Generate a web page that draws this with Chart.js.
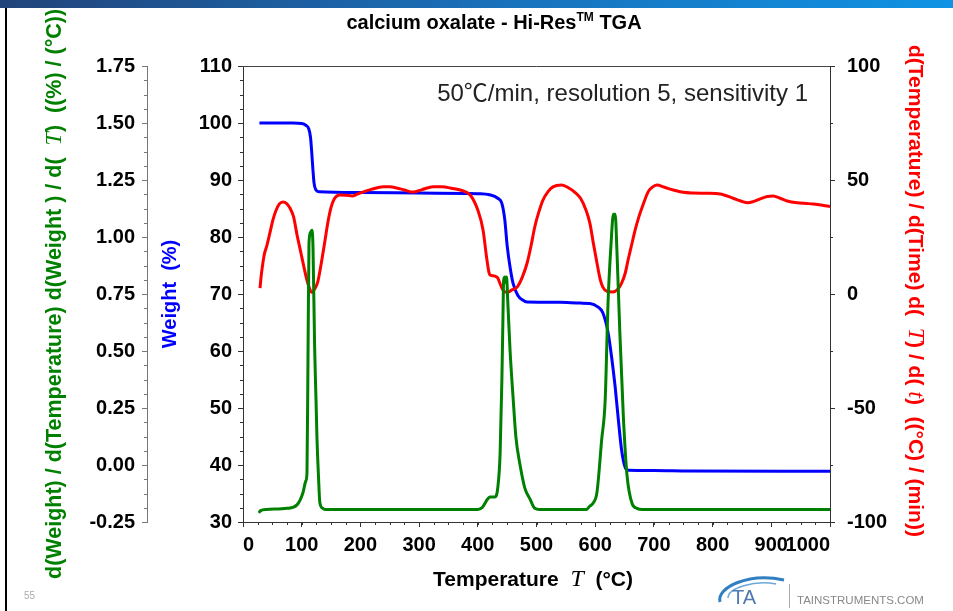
<!DOCTYPE html>
<html>
<head>
<meta charset="UTF-8">
<title>calcium oxalate - Hi-Res TGA</title>
<script src="https://cdn.jsdelivr.net/npm/chart.js"></script>
<style>
  html, body { margin: 0; padding: 0; background: #fff; }
  #wrap { position: relative; width: 953px; height: 611px; overflow: hidden; }
  #chart { position: absolute; left: 0; top: 0; }
  .topbar { position: absolute; left: 0; top: 0; width: 953px; height: 8px;
            background: linear-gradient(to right, #22447a, #1a6fb8 50%, #0f93e4); }
  .leftline { position: absolute; left: 5px; top: 8px; width: 2px; height: 603px; background: #000; }
  .pagenum { position: absolute; left: 24px; top: 590px; font: 10px "Liberation Sans", Arial, sans-serif; color: #aaa; }
  .sep { position: absolute; left: 789px; top: 584px; width: 1px; height: 24px; background: #aaa; }
  .site { position: absolute; left: 797px; top: 594px; font: 11.5px "Liberation Sans", Arial, sans-serif; color: #888; }
  .logo { position: absolute; left: 712px; top: 564px; }
</style>
</head>
<body>
<div id="wrap">
  <canvas id="chart" width="953" height="611"></canvas>
  <div class="topbar"></div>
  <div class="leftline"></div>
  <div class="pagenum">55</div>
  <svg class="logo" width="80" height="44" viewBox="0 0 80 44">
    <path d="M8 38 C 4 24, 36 8, 72 16" fill="none" stroke="#2f7fc1" stroke-width="3"/>
    <path d="M16 34 C 16 24, 42 16, 64 20" fill="none" stroke="#6aa8dc" stroke-width="1.5"/>
    <text x="20" y="40" font-family="Liberation Sans, Arial, sans-serif" font-size="20" fill="#4f79b0">TA</text>
  </svg>
  <div class="sep"></div>
  <div class="site">TAINSTRUMENTS.COM</div>
</div>

<script>
    // weight curve (%), left inner axis
    const weightT   = [28, 60, 85, 100, 107, 112, 115, 117, 119, 121, 124, 130, 200, 300, 380, 400, 420, 434, 441, 446, 450, 455, 460, 468, 477, 484, 540, 575, 591, 605, 613, 622, 628, 634, 639, 645, 651, 656, 700, 760, 1000];
    const weightVal = [100, 100, 100, 99.9, 99.6, 99.0, 97.5, 95, 92, 89.5, 88.3, 87.95, 87.8, 87.7, 87.65, 87.6, 87.4, 86.8, 85.9, 83.0, 78.5, 74.7, 71.9, 69.8, 68.9, 68.6, 68.55, 68.4, 68.35, 67.7, 66.7, 63.2, 58.9, 53.7, 48.4, 42.6, 39.6, 39.1, 39.05, 38.95, 38.9];

    // derivative weight / temperature, left outer axis
    const derivT   = [27, 30, 40, 75, 92, 102, 107, 109, 110.7, 112.4, 115, 117.5, 119.3, 122, 124.4, 126, 128.6, 131, 136, 140, 400, 408, 413, 415, 421, 429, 434, 438, 441, 443, 444, 446, 447.5, 449, 451, 455, 460, 465, 472, 480, 489, 497, 505, 585, 591, 597, 603, 611, 617, 622, 627, 631, 634, 637, 642, 648, 654, 663, 671, 680, 1000];
    const derivVal = [-0.21, -0.2, -0.195, -0.19, -0.175, -0.123, -0.07, -0.035, 0.46, 0.97, 1.02, 1.03, 0.95, 0.52, 0.285, 0.12, -0.05, -0.167, -0.19, -0.195, -0.195, -0.185, -0.165, -0.155, -0.14, -0.14, -0.10, 0.05, 0.37, 0.67, 0.81, 0.825, 0.80, 0.825, 0.72, 0.50, 0.30, 0.12, 0.0, -0.10, -0.15, -0.19, -0.195, -0.195, -0.18, -0.165, -0.12, 0.11, 0.285, 0.72, 0.97, 1.10, 1.10, 0.94, 0.58, 0.21, -0.04, -0.17, -0.19, -0.195, -0.195];

    // heating rate (°C/min), right axis
    const rateT   = [29, 31, 33, 36, 41, 46, 51, 56, 62, 68, 74, 80, 86, 92, 97, 102, 109, 114, 117.5, 122, 127, 131, 135, 140, 145, 150, 155, 165, 175, 186, 195, 204, 220, 239, 250, 262, 275, 290, 305, 324, 340, 353, 370, 387, 400, 409, 415, 419, 421, 426, 432, 434, 438, 441, 446, 452, 458, 467, 476, 484, 491, 497, 504, 511, 520, 528, 543, 555, 566, 575, 584, 591, 597, 603, 608, 613, 620, 630, 638, 645, 651, 656, 662, 668, 674, 680, 690, 697, 705, 718, 733, 750, 767, 790, 813, 835, 848, 860, 870, 881, 893, 903, 915, 927, 944, 960, 971, 985, 995, 1000];
    const rateVal = [2.6, 8, 12, 17, 21.5, 27, 32.5, 36.5, 39.5, 40.4, 39.8, 37.7, 34, 26, 20, 14, 6, 2, 0.7, 2.2, 5, 10, 16, 24, 32, 38, 41.5, 43.4, 43.3, 43, 43.8, 44.7, 46, 47, 47, 46.5, 45.6, 44.7, 45.8, 47, 47, 46.5, 45.6, 43.4, 36.8, 28, 16, 9.5, 8.3, 8.0, 7.5, 7, 4.5, 2.6, 0.9, 0.9, 1.8, 3, 7.5, 13.6, 21.5, 29.4, 36, 41.2, 45, 47, 47.8, 46.5, 44.5, 42, 37, 31, 22, 13.6, 7, 3, 1.2, 0.9, 2, 4.8, 9, 14.9, 21.5, 28, 33.5, 38, 44.7, 46.8, 47.8, 46.8, 45.6, 44.6, 44.3, 44.2, 43.9, 42, 40.8, 40, 40.6, 41.7, 42.8, 43, 42, 40.8, 40, 39.7, 39.5, 39, 38.6, 38.4];

    const titleParts = ['calcium oxalate - Hi-Res', 'TM', ' TGA'];
    const noteParts = ['50', '\u2103', '/min, resolution 5, sensitivity 1'];

    const minorSteps = { x: 25, y: 2.5, yd: 0.0625, yt: 25 };

    const SANS = '"Liberation Sans", Arial, sans-serif';
    const SERIF = '"Liberation Serif", "Times New Roman", serif';
    const CJK = '"Noto Sans CJK SC", sans-serif';

    function pairs(xs, ys){
        return xs.map(function(x, i){ return {x: x, y: ys[i]}; });
    }

    // draws a run of differently styled pieces along one line
    function drawRich(ctx, segs, x, y, rot, anchor, baseline){
        ctx.save();
        ctx.translate(x, y);
        ctx.rotate(rot);
        var total = 0;
        segs.forEach(function(s){ ctx.font = s.f; s.w = ctx.measureText(s.t).width; total += s.w; });
        var cx = anchor === 'start' ? 0 : (anchor === 'end' ? -total : -total / 2);
        ctx.textBaseline = baseline || 'middle';
        ctx.textAlign = 'left';
        segs.forEach(function(s){
            ctx.font = s.f;
            ctx.fillStyle = s.c;
            ctx.fillText(s.t, cx, s.dy || 0);
            cx += s.w;
        });
        ctx.restore();
    }

    const extras = {
        id: 'extras',
        afterDraw(chart){
            const ctx = chart.ctx;
            const a = chart.chartArea;

            // top frame line
            ctx.save();
            ctx.strokeStyle = '#444';
            ctx.lineWidth = 1;
            ctx.beginPath();
            ctx.moveTo(a.left, Math.round(a.top) + 0.5);
            ctx.lineTo(a.right, Math.round(a.top) + 0.5);
            ctx.stroke();

            // minor ticks
            Object.values(chart.scales).forEach(function(sc){
                const m = minorSteps[sc.id];
                if (!m) return;
                ctx.strokeStyle = sc.options.border.color;
                for (let v = sc.min; v <= sc.max + 1e-9; v += m) {
                    const p = Math.round(sc.getPixelForValue(v)) + 0.5;
                    ctx.beginPath();
                    if (sc.id === 'x') { ctx.moveTo(p, sc.top); ctx.lineTo(p, sc.top + 3); }
                    else if (sc.position === 'left') { ctx.moveTo(sc.right, p); ctx.lineTo(sc.right - 3, p); }
                    else { ctx.moveTo(sc.left, p); ctx.lineTo(sc.left + 3, p); }
                    ctx.stroke();
                }
            });
            ctx.restore();

            // chart title
            const tb = 'bold 20px ' + SANS;
            drawRich(ctx, [
                {t: titleParts[0], f: tb, c: '#000'},
                {t: titleParts[1], f: 'bold 12px ' + SANS, c: '#000', dy: -8},
                {t: titleParts[2], f: tb, c: '#000'}
            ], 494, 29, 0, 'center', 'alphabetic');

            // note inside plot
            const nf = '24px ' + SANS;
            drawRich(ctx, [
                {t: noteParts[0], f: nf, c: '#222'},
                {t: noteParts[1], f: '24px ' + CJK, c: '#222'},
                {t: noteParts[2], f: nf, c: '#222'}
            ], 808, 101, 0, 'end', 'alphabetic');

            // axis titles
            const G = '#008000', R = '#ff0000', B = '#0000ff';
            const gb = 'bold 21.5px ' + SANS, gi = 'italic 24px ' + SERIF;
            drawRich(ctx, [
                {t: 'd(Weight) / d(Temperature) d(Weight ) / d(  ', f: gb, c: G},
                {t: 'T', f: gi, c: G},
                {t: ')  ((%) / (\u00B0C))', f: gb, c: G}
            ], 55, 579, -Math.PI / 2, 'start');

            drawRich(ctx, [
                {t: 'Weight  (%)', f: 'bold 20px ' + SANS, c: B}
            ], 170, (a.top + a.bottom) / 2, -Math.PI / 2);

            const rb = 'bold 21px ' + SANS, ri = 'italic 24px ' + SERIF;
            drawRich(ctx, [
                {t: 'd(Temperature) / d(Time) d(  ', f: rb, c: R},
                {t: 'T', f: ri, c: R},
                {t: ') / d( ', f: rb, c: R},
                {t: 't', f: ri, c: R},
                {t: ')  ((\u00B0C) / (min))', f: rb, c: R}
            ], 915, 45, Math.PI / 2, 'start');

            const xb = 'bold 21px ' + SANS, xi = 'italic 24px ' + SERIF;
            drawRich(ctx, [
                {t: 'Temperature  ', f: xb, c: '#000'},
                {t: 'T', f: xi, c: '#000'},
                {t: '  (\u00B0C)', f: xb, c: '#000'}
            ], 533, 580, 0);
        }
    };

    const tickFont = { family: SANS, size: 20, weight: 'bold' };

    new Chart(document.getElementById('chart'), {
        type: 'line',
        data: {
            datasets: [{
                label: 'deriv',
                data: pairs(derivT, derivVal),
                yAxisID: 'yd',
                borderColor: '#008000',
                borderWidth: 3,
                pointRadius: 0,
                cubicInterpolationMode: 'monotone'
            }, {
                label: 'rate',
                data: pairs(rateT, rateVal),
                yAxisID: 'yt',
                borderColor: '#ff0000',
                borderWidth: 3,
                pointRadius: 0,
                cubicInterpolationMode: 'monotone'
            }, {
                label: 'weight',
                data: pairs(weightT, weightVal),
                yAxisID: 'y',
                borderColor: '#0000ff',
                borderWidth: 3,
                pointRadius: 0,
                cubicInterpolationMode: 'monotone'
            }]
        },
        options: {
            responsive: false,
            animation: false,
            devicePixelRatio: 1,
            layout: { padding: { top: 66, left: 0, right: 0, bottom: 0 } },
            plugins: {
                legend: { display: false },
                tooltip: { enabled: false },
                title: { display: false }
            },
            scales: {
                x: {
                    type: 'linear',
                    position: 'bottom',
                    min: 0, max: 1000,
                    border: { display: true, color: '#333' },
                    grid: { drawOnChartArea: false, drawTicks: true, tickLength: 5, color: '#333' },
                    ticks: { stepSize: 100, color: '#000', font: tickFont, padding: 6, align: 'inner', maxRotation: 0,
                             callback: function(v){ return String(v); } },
                    afterFit(s){ s.height = 89; }
                },
                y: {
                    position: 'left',
                    weight: 0,
                    min: 30, max: 110,
                    border: { display: true, color: '#333' },
                    grid: { drawOnChartArea: false, drawTicks: true, tickLength: 5, color: '#333' },
                    ticks: { stepSize: 10, color: '#000', font: tickFont, padding: 6 },
                    afterFit(s){ s.width = 96; }
                },
                yd: {
                    position: 'left',
                    weight: 10,
                    min: -0.25, max: 1.75,
                    border: { display: true, color: '#777' },
                    grid: { drawOnChartArea: false, drawTicks: true, tickLength: 5, color: '#777' },
                    ticks: { stepSize: 0.25, color: '#000', font: tickFont, padding: 7,
                             callback: function(v){ return Number(v).toFixed(2); } },
                    afterFit(s){ s.width = 147; }
                },
                yt: {
                    position: 'right',
                    min: -100, max: 100,
                    border: { display: true, color: '#333' },
                    grid: { drawOnChartArea: false, drawTicks: true, tickLength: 5, color: '#333' },
                    ticks: { stepSize: 50, color: '#000', font: tickFont, padding: 12 },
                    afterFit(s){ s.width = 123; }
                }
            }
        },
        plugins: [extras]
    });
</script>
</body>
</html>
